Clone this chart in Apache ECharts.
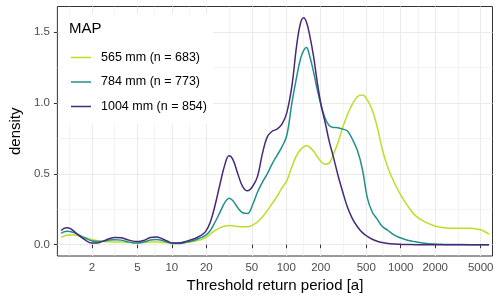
<!DOCTYPE html>
<html><head><meta charset="utf-8">
<script src="https://cdn.jsdelivr.net/npm/echarts@6/dist/echarts.min.js"></script>
<style>html,body{margin:0;padding:0;background:#fff}#c{width:500px;height:299px}</style>
</head><body><div id="c"></div>
<script>
// Threshold return period [a]
const returnPeriod = [1.08, 1.14, 1.21, 1.29, 1.39, 1.57, 1.77, 1.99, 2.24, 2.52,
  2.84, 3.19, 3.60, 4.05, 4.56, 5.13, 5.78, 6.50, 7.32, 8.24,
  9.28, 10.2, 11.8, 13.5, 15.5, 17.5, 19.7, 21.7, 23.9, 26.4,
  29.2, 31.6, 34.2, 37.7, 41.6, 45.9, 50.7, 56.0, 61.8, 68.2,
  75.3, 83.1, 91.7, 101, 112, 123, 133, 142, 150, 159,
  173, 187, 202, 219, 237, 256, 283, 312, 344, 380,
  420, 463, 511, 564, 623, 687, 774, 888, 1020, 1170,
  1345, 1607, 1957, 2385, 3083, 4064, 4760, 5358, 5914];
const density565 = [0.052, 0.060, 0.066, 0.069, 0.068, 0.060, 0.048, 0.036, 0.028, 0.022,
  0.020, 0.019, 0.018, 0.016, 0.014, 0.014, 0.016, 0.018, 0.018, 0.016,
  0.013, 0.012, 0.012, 0.016, 0.022, 0.032, 0.048, 0.075, 0.100, 0.120,
  0.132, 0.135, 0.133, 0.128, 0.126, 0.126, 0.138, 0.160, 0.195, 0.240,
  0.290, 0.340, 0.400, 0.450, 0.550, 0.630, 0.670, 0.690, 0.697, 0.690,
  0.660, 0.620, 0.585, 0.568, 0.575, 0.630, 0.720, 0.830, 0.920, 0.995,
  1.045, 1.055, 1.020, 0.950, 0.830, 0.680, 0.540, 0.430, 0.338, 0.265,
  0.205, 0.162, 0.134, 0.120, 0.115, 0.115, 0.108, 0.095, 0.075];
const density784 = [0.080, 0.090, 0.095, 0.093, 0.085, 0.065, 0.045, 0.028, 0.022, 0.025,
  0.032, 0.035, 0.032, 0.022, 0.014, 0.012, 0.020, 0.033, 0.037, 0.030,
  0.016, 0.008, 0.008, 0.018, 0.030, 0.045, 0.065, 0.100, 0.160, 0.230,
  0.300, 0.327, 0.310, 0.260, 0.225, 0.220, 0.280, 0.370, 0.440, 0.500,
  0.570, 0.630, 0.690, 0.770, 1.000, 1.180, 1.310, 1.370, 1.390, 1.340,
  1.220, 1.090, 0.980, 0.890, 0.840, 0.827, 0.825, 0.815, 0.800, 0.740,
  0.660, 0.530, 0.330, 0.230, 0.180, 0.130, 0.100, 0.065, 0.045, 0.030,
  0.020, 0.010, 0.004, 0.002, 0.001, 0, 0, 0, 0];
const density1004 = [0.100, 0.115, 0.120, 0.115, 0.095, 0.060, 0.030, 0.012, 0.012, 0.025,
  0.042, 0.050, 0.048, 0.036, 0.025, 0.022, 0.032, 0.050, 0.054, 0.042,
  0.022, 0.011, 0.013, 0.025, 0.040, 0.060, 0.092, 0.160, 0.280, 0.430,
  0.570, 0.627, 0.600, 0.500, 0.410, 0.380, 0.410, 0.480, 0.640, 0.760,
  0.800, 0.815, 0.850, 0.930, 1.120, 1.400, 1.560, 1.600, 1.570, 1.490,
  1.330, 1.140, 0.980, 0.860, 0.730, 0.630, 0.490, 0.370, 0.260, 0.180,
  0.125, 0.085, 0.058, 0.038, 0.024, 0.015, 0.008, 0.004, 0.002, 0.001,
  0, 0, 0, 0, 0, 0, 0, 0, 0];
const seriesNames = ['565 mm (n = 683)', '784 mm (n = 773)', '1004 mm (n = 854)'];
const seriesColors = ['#BBDF27', '#21908C', '#482878'];
const xTickLabels = [2, 5, 10, 20, 50, 100, 200, 500, 1000, 2000, 5000];
const yTickLabels = [0, 0.5, 1, 1.5];
const yMinorTicks = [0.25, 0.75, 1.25];

const lg = v => Math.log10(v);
const xMajor = xTickLabels.map(lg);
const xMinor = [];
xMinor.push(xMajor[0] - (xMajor[1] - xMajor[0]) / 2);
for (let i = 0; i < xMajor.length - 1; i++) xMinor.push((xMajor[i] + xMajor[i + 1]) / 2);
const xMin = 0, xMax = 3.802;
const labelFor = v => {
  let best = xTickLabels[0];
  xTickLabels.forEach(t => { if (Math.abs(lg(t) - v) < Math.abs(lg(best) - v)) best = t; });
  return String(best);
};
const font = 'Liberation Sans, Arial, sans-serif';
const grid = '#EBEBEB';
const dens = [density565, density784, density1004];

const chart = echarts.init(document.getElementById('c'), null, {renderer: 'canvas'});
chart.setOption({
  animation: false,
  backgroundColor: '#fff',
  grid: {left: 49.3, right: 7.5, top: 6.5, bottom: 43, show: true, borderColor: '#333', borderWidth: 1, backgroundColor: 'transparent'},
  xAxis: [{
    type: 'value', min: xMin, max: xMax,
    name: 'Threshold return period [a]', nameLocation: 'middle', nameGap: 21,
    nameTextStyle: {fontFamily: font, fontSize: 15, color: '#000'},
    axisLine: {show: false},
    axisTick: {show: true, length: 3.5, lineStyle: {color: '#333', width: 1}, customValues: xMajor},
    axisLabel: {customValues: xMajor, formatter: labelFor, fontFamily: font, fontSize: 11.5, color: '#4D4D4D', margin: 5.5},
    splitLine: {show: true, lineStyle: {color: grid, width: 1.1}}
  }, {
    type: 'value', min: xMin, max: xMax, position: 'bottom',
    axisLine: {show: false}, axisLabel: {show: false},
    axisTick: {show: false, customValues: xMinor},
    splitLine: {show: true, lineStyle: {color: grid, width: 0.55}}
  }],
  yAxis: [{
    type: 'value', min: -0.08, max: 1.68,
    name: 'density', nameLocation: 'middle', nameGap: 30, nameRotate: 90,
    nameTextStyle: {fontFamily: font, fontSize: 15, color: '#000'},
    axisLine: {show: false},
    axisTick: {show: true, length: 3.5, lineStyle: {color: '#333', width: 1}, customValues: yTickLabels},
    axisLabel: {customValues: yTickLabels, formatter: v => v.toFixed(1), fontFamily: font, fontSize: 11.5, color: '#4D4D4D', margin: 7.5},
    splitLine: {show: true, lineStyle: {color: grid, width: 1.1}}
  }, {
    type: 'value', min: -0.08, max: 1.68, position: 'left',
    axisLine: {show: false}, axisLabel: {show: false},
    axisTick: {show: false, customValues: yMinorTicks},
    splitLine: {show: true, lineStyle: {color: grid, width: 0.55}}
  }],
  legend: {
    orient: 'vertical', left: 66, top: 45.5, padding: 5,
    icon: 'rect', itemWidth: 20, itemHeight: 1.5, itemGap: 10.5,
    textStyle: {fontFamily: font, fontSize: 12.5, lineHeight: 14, color: '#000', padding: [0, 0, 0, 5]},
    data: seriesNames
  },
  graphic: [
    {type: 'rect', z: 1, shape: {x: 60, y: 14, width: 153, height: 110}, style: {fill: '#fff'}, silent: true},
    {type: 'text', z: 5, x: 69, y: 29, style: {text: 'MAP', font: '15px ' + font, fill: '#000', verticalAlign: 'middle'}, silent: true}
  ],
  series: seriesNames.map((n, i) => ({
    name: n, type: 'line', xAxisIndex: 0, yAxisIndex: 0,
    data: returnPeriod.map((t, j) => [lg(t), dens[i][j]]),
    symbol: 'none', showSymbol: false, smooth: 0.4,
    lineStyle: {color: seriesColors[i], width: 1.5},
    itemStyle: {color: seriesColors[i]},
    z: 2 + i
  }))
});
</script></body></html>
